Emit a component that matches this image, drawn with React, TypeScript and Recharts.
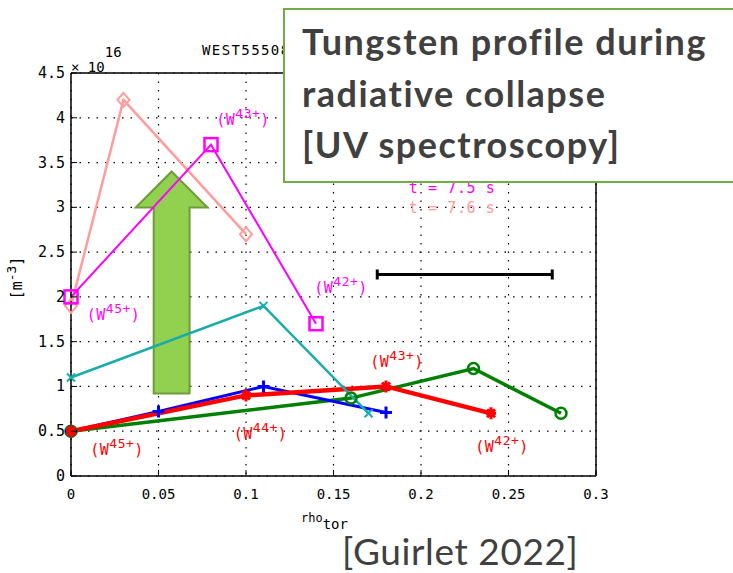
import React from "react"
import {
  CartesianGrid,
  ComposedChart,
  Line,
  ReferenceArea,
  ReferenceDot,
  XAxis,
  YAxis,
} from "recharts"

// rho_tor ticks and density ticks (units of 1e16 m^-3)
const xTicks = [0, 0.05, 0.1, 0.15, 0.2, 0.25, 0.3]
const yTicks = [0, 0.5, 1, 1.5, 2, 2.5, 3, 3.5, 4, 4.5]

// t = 7.6 s
const salmonDiamond = [
  { x: 0, y: 1.9 },
  { x: 0.03, y: 4.2 },
  { x: 0.1, y: 2.7 },
]
// t = 7.5 s
const magentaSquare = [
  { x: 0, y: 2.0 },
  { x: 0.08, y: 3.7 },
  { x: 0.14, y: 1.7 },
]
const cyanCross = [
  { x: 0, y: 1.1 },
  { x: 0.11, y: 1.9 },
  { x: 0.17, y: 0.7 },
]
const bluePlus = [
  { x: 0, y: 0.5 },
  { x: 0.05, y: 0.72 },
  { x: 0.11, y: 1.0 },
  { x: 0.18, y: 0.71 },
]
const redStar = [
  { x: 0, y: 0.5 },
  { x: 0.1, y: 0.9 },
  { x: 0.18, y: 1.0 },
  { x: 0.24, y: 0.7 },
]
const greenCircle = [
  { x: 0, y: 0.5 },
  { x: 0.16, y: 0.87 },
  { x: 0.23, y: 1.2 },
  { x: 0.28, y: 0.7 },
]
const radialError = [
  { x: 0.175, y: 2.25 },
  { x: 0.275, y: 2.25 },
]

const MAGENTA = "#ff00ff"
const SALMON = "#ff9c9c"
const RED = "#ff0000"

const ionLabels = [
  { x: 0.083, y: 3.92, ion: "43+", color: MAGENTA },
  { x: 0.139, y: 2.04, ion: "42+", color: MAGENTA },
  { x: 0.009, y: 1.74, ion: "45+", color: MAGENTA },
  { x: 0.171, y: 1.22, ion: "43+", color: RED },
  { x: 0.093, y: 0.41, ion: "44+", color: RED },
  { x: 0.011, y: 0.23, ion: "45+", color: RED },
  { x: 0.231, y: 0.27, ion: "42+", color: RED },
]
const timeLabels = [
  { x: 0.193, y: 3.16, text: "t = 7.5 s", color: MAGENTA },
  { x: 0.193, y: 2.94, text: "t = 7.6 s", color: SALMON },
]

const MONO = "'DejaVu Sans Mono', monospace"
const SANS = "Lato, 'Open Sans', sans-serif"

type Kind = "diamond" | "square" | "cross" | "plus" | "star" | "circle" | "cap"

const Marker = ({ kind, cx, cy, color, sw }: any) => {
  switch (kind) {
    case "diamond":
      return (
        <path
          d={`M${cx},${cy - 7}L${cx + 6},${cy}L${cx},${cy + 7}L${cx - 6},${cy}Z`}
          fill="none"
          stroke={color}
          strokeWidth={sw}
        />
      )
    case "square":
      return (
        <rect x={cx - 6.5} y={cy - 6.5} width={13} height={13} fill="none" stroke={color} strokeWidth={sw} />
      )
    case "cross":
      return (
        <path
          d={`M${cx - 4},${cy - 4}L${cx + 4},${cy + 4}M${cx - 4},${cy + 4}L${cx + 4},${cy - 4}`}
          stroke={color}
          strokeWidth={sw}
        />
      )
    case "plus":
      return (
        <path d={`M${cx - 6},${cy}L${cx + 6},${cy}M${cx},${cy - 6}L${cx},${cy + 6}`} stroke={color} strokeWidth={sw} />
      )
    case "star":
      return (
        <path
          d={`M${cx - 5},${cy}L${cx + 5},${cy}M${cx},${cy - 6}L${cx},${cy + 6}M${cx - 4},${cy - 4}L${cx + 4},${cy + 4}M${cx - 4},${cy + 4}L${cx + 4},${cy - 4}`}
          stroke={color}
          strokeWidth={sw}
        />
      )
    case "circle":
      return <circle cx={cx} cy={cy} r={5.5} fill="none" stroke={color} strokeWidth={sw} />
    case "cap":
      return <path d={`M${cx},${cy - 5}L${cx},${cy + 5}`} stroke={color} strokeWidth={sw} />
  }
  return null
}

const dotOf = (kind: Kind, color: string, sw: number) => (p: any) => (
  <Marker key={`${kind}-${p.index}`} kind={kind} cx={p.cx} cy={p.cy} color={color} sw={sw} />
)

// ticks drawn inside the box, matlab style
const BottomTick = ({ x, y, payload }: any) => (
  <g>
    <line x1={x} y1={y} x2={x} y2={y - 6} stroke="#000" />
    <text x={x} y={y + 23} textAnchor="middle" fontFamily={MONO} fontSize={14} fill="#000">
      {payload.value}
    </text>
  </g>
)
const TopTick = ({ x, y }: any) => <line x1={x} y1={y} x2={x} y2={y + 6} stroke="#000" />
const LeftTick = ({ x, y, payload }: any) => (
  <g>
    <line x1={x} y1={y} x2={x + 6} y2={y} stroke="#000" />
    <text x={x - 6} y={y + 5} textAnchor="end" fontFamily={MONO} fontSize={15} fill="#000">
      {payload.value}
    </text>
  </g>
)
const RightTick = ({ x, y }: any) => <line x1={x} y1={y} x2={x - 6} y2={y} stroke="#000" />

const IonLabel = ({ cx, cy, ion, color }: any) => (
  <text x={cx} y={cy} fill={color} fontFamily={MONO} fontSize={15} letterSpacing={0.5}>
    <tspan>(W</tspan>
    <tspan dy={-7} fontSize={13}>
      {ion}
    </tspan>
    <tspan dy={7}>)</tspan>
  </text>
)

const UpArrow = ({ x, y, width, height }: any) => {
  const head = 36
  const shaft = width * 0.5
  const mid = x + width / 2
  const d = [
    `M${mid},${y}`,
    `L${x + width},${y + head}`,
    `L${mid + shaft / 2},${y + head}`,
    `L${mid + shaft / 2},${y + height}`,
    `L${mid - shaft / 2},${y + height}`,
    `L${mid - shaft / 2},${y + head}`,
    `L${x},${y + head}`,
    "Z",
  ].join("")
  return <path d={d} fill="#92d050" stroke="#6f9b3b" strokeWidth={2} />
}

const axisStroke = { stroke: "#000", strokeWidth: 1.5 }

export default function App() {
  return (
    <div
      style={{
        position: "absolute",
        left: 0,
        top: 0,
        width: 733,
        height: 573,
        overflow: "hidden",
        background: "#fff",
      }}
    >
      <ComposedChart width={733} height={573} margin={{ top: 63, right: 127, bottom: 67, left: 21 }}>
        <CartesianGrid stroke="#000" strokeDasharray="1.5 7" strokeWidth={1.2} />
        <XAxis
          dataKey="x"
          type="number"
          domain={[0, 0.3]}
          ticks={xTicks}
          height={30}
          tickSize={0}
          tickMargin={0}
          tick={<BottomTick />}
          axisLine={axisStroke}
        />
        <XAxis
          xAxisId="top"
          orientation="top"
          type="number"
          domain={[0, 0.3]}
          ticks={xTicks}
          height={10}
          tickSize={0}
          tickMargin={0}
          tick={<TopTick />}
          axisLine={axisStroke}
        />
        <YAxis
          type="number"
          domain={[0, 4.5]}
          ticks={yTicks}
          width={50}
          tickSize={0}
          tickMargin={0}
          tick={<LeftTick />}
          axisLine={axisStroke}
        />
        <YAxis
          yAxisId="right"
          orientation="right"
          type="number"
          domain={[0, 4.5]}
          ticks={yTicks}
          width={10}
          tickSize={0}
          tickMargin={0}
          tick={<RightTick />}
          axisLine={axisStroke}
        />

        <Line data={greenCircle} dataKey="y" stroke="#008000" strokeWidth={3.5} dot={dotOf("circle", "#008000", 2.5)} activeDot={false} isAnimationActive={false} />
        <Line data={bluePlus} dataKey="y" stroke="#0000ff" strokeWidth={3} dot={dotOf("plus", "#0000ff", 3)} activeDot={false} isAnimationActive={false} />
        <Line data={redStar} dataKey="y" stroke={RED} strokeWidth={4.5} dot={dotOf("star", RED, 3)} activeDot={false} isAnimationActive={false} />
        <Line data={cyanCross} dataKey="y" stroke="#1aabab" strokeWidth={2.5} dot={dotOf("cross", "#1aabab", 2)} activeDot={false} isAnimationActive={false} />
        <Line data={salmonDiamond} dataKey="y" stroke={SALMON} strokeWidth={2.5} dot={dotOf("diamond", SALMON, 2)} activeDot={false} isAnimationActive={false} />
        <Line data={magentaSquare} dataKey="y" stroke={MAGENTA} strokeWidth={2} dot={dotOf("square", MAGENTA, 2.5)} activeDot={false} isAnimationActive={false} />
        <Line data={radialError} dataKey="y" stroke="#000" strokeWidth={3} dot={dotOf("cap", "#000", 3)} activeDot={false} isAnimationActive={false} />

        {ionLabels.map((l, i) => (
          <ReferenceDot
            key={`ion-${i}`}
            x={l.x}
            y={l.y}
            r={0}
            shape={(p: any) => <IonLabel cx={p.cx} cy={p.cy} ion={l.ion} color={l.color} />}
          />
        ))}
        {timeLabels.map((l, i) => (
          <ReferenceDot
            key={`t-${i}`}
            x={l.x}
            y={l.y}
            r={0}
            shape={(p: any) => (
              <text x={p.cx} y={p.cy} fill={l.color} fontFamily={MONO} fontSize={15} letterSpacing={0.6}>
                {l.text}
              </text>
            )}
          />
        ))}

        <ReferenceArea x1={0.037} x2={0.078} y1={0.92} y2={3.4} shape={<UpArrow />} />
      </ComposedChart>

      {/* axis annotations */}
      <div style={{ position: "absolute", left: 71, top: 59, font: `14px ${MONO}`, whiteSpace: "nowrap" }}>
        × 10<span style={{ position: "relative", top: -15 }}>16</span>
      </div>
      <div
        style={{ position: "absolute", left: 202, top: 42, font: `14px ${MONO}`, letterSpacing: 1.4, whiteSpace: "nowrap" }}
      >
        WEST55508
      </div>
      <div
        style={{
          position: "absolute",
          left: 17,
          top: 278,
          transform: "translate(-50%, -50%) rotate(-90deg)",
          font: `15px ${MONO}`,
          whiteSpace: "nowrap",
        }}
      >
        [m<span style={{ position: "relative", top: -6, fontSize: 13 }}>-3</span>]
      </div>
      <div style={{ position: "absolute", left: 301, top: 509, font: `12px ${MONO}`, whiteSpace: "nowrap" }}>
        rho<span style={{ position: "relative", top: 7, fontSize: 14 }}>tor</span>
      </div>

      <div
        style={{
          position: "absolute",
          left: 283,
          top: 8,
          width: 470,
          height: 175,
          background: "#fff",
          border: "2px solid #70ad47",
          boxSizing: "border-box",
          padding: "6px 0 0 17px",
          fontFamily: SANS,
          fontWeight: 700,
          fontSize: 36,
          letterSpacing: 1.5,
          lineHeight: "51.5px",
          color: "#404040",
          whiteSpace: "nowrap",
        }}
      >
        Tungsten profile during
        <br />
        radiative collapse
        <br />
        [UV spectroscopy]
      </div>

      <div
        style={{
          position: "absolute",
          left: 342,
          top: 532,
          fontFamily: SANS,
          fontSize: 37,
          lineHeight: "38px",
          letterSpacing: 0.6,
          color: "#404040",
          whiteSpace: "nowrap",
        }}
      >
        [Guirlet 2022]
      </div>
    </div>
  )
}
